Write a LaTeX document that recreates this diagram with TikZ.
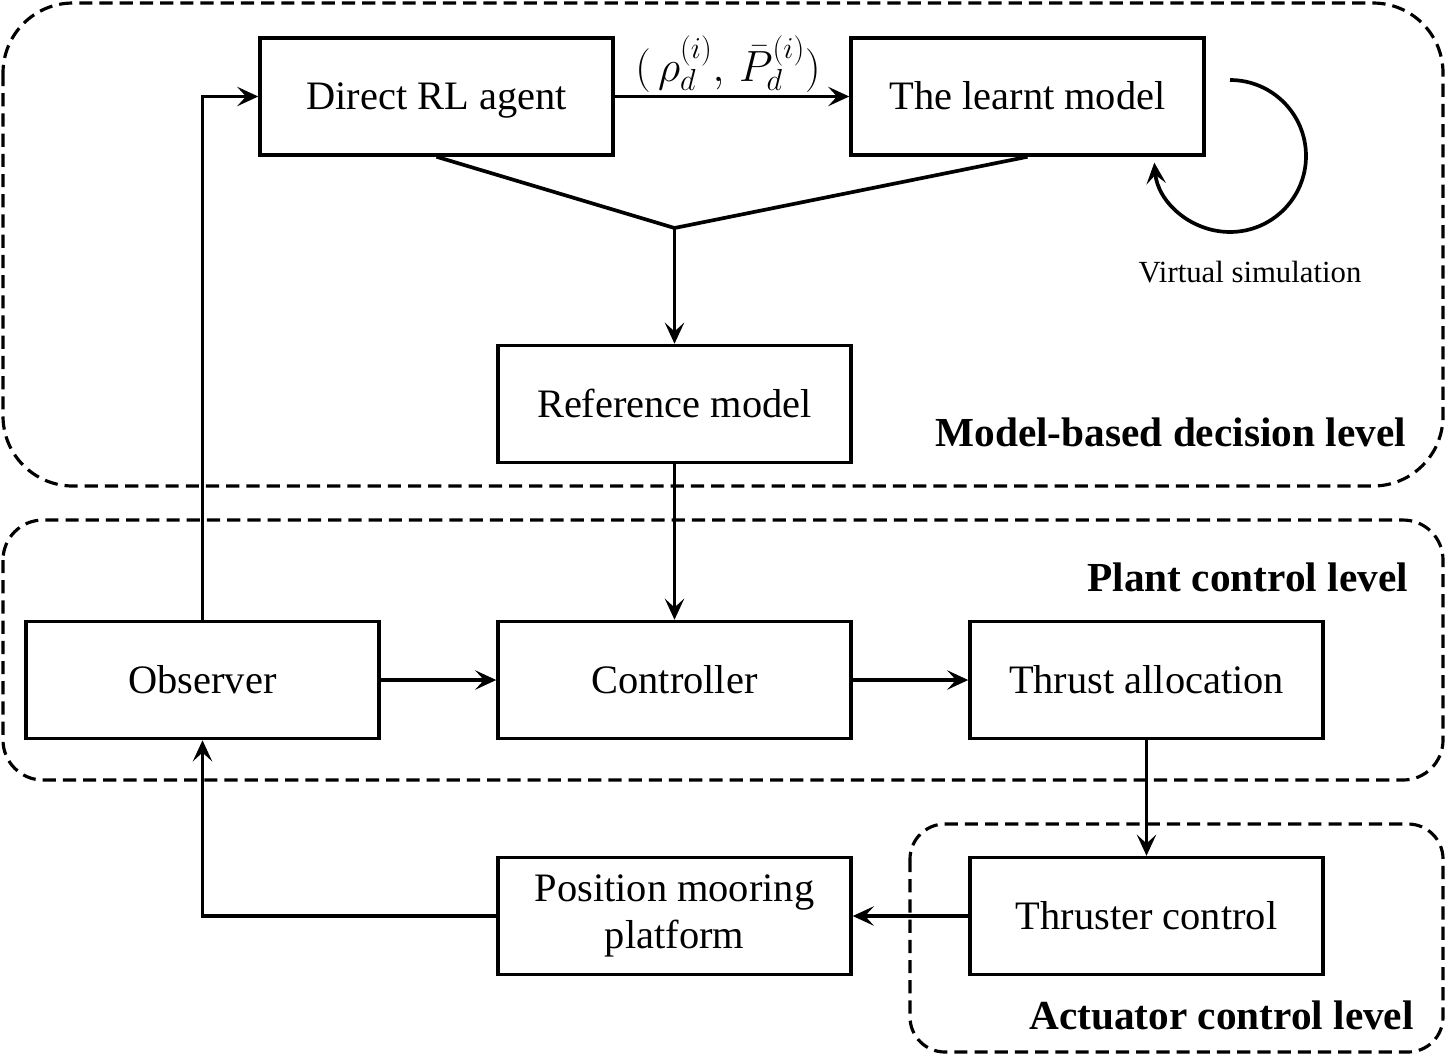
\documentclass[tikz,border=0pt]{standalone}
\usepackage{fontspec}
\setmainfont{Liberation Serif}
\usetikzlibrary{arrows.meta}
\begin{document}
\begin{tikzpicture}[x=0.02cm,y=-0.02cm,
  blk/.style={draw, line width=2pt, minimum width=7.06cm, minimum height=2.34cm,
    align=center, font=\fontsize{23}{27}\selectfont, inner sep=0pt,
    text height=15.2pt, text depth=0pt},
  arr/.style={line width=2.1pt, -{Stealth[length=12pt,width=11pt,inset=5pt]}},
  ln/.style={line width=2.1pt},
  zone/.style={draw, line width=1.8pt, dash pattern=on 7.5pt off 4pt},
  lvl/.style={font=\fontsize{23.5}{27}\selectfont\bfseries, anchor=east}]
\useasboundingbox (0,0) rectangle (1446,1063);

% zones
\draw[zone, rounded corners=1.4cm] (3,3) rectangle (1443,486);
\draw[zone, rounded corners=0.8cm] (3,520) rectangle (1443,780);
\draw[zone, rounded corners=0.7cm] (910,824) rectangle (1443,1052);

\node[lvl] (lmb) at (1412,432) {Model-based decision level};
\node[lvl] (lpc) at (1414,577) {Plant control level};
\node[lvl] (lac) at (1420,1015) {Actuator control level};

% blocks
\node[blk] (rl)   at (436.5,96.5) {Direct RL agent};
\node[blk] (lm)   at (1027.5,96.5) {The learnt model};
\node[blk] (ref)  at (674.5,404) {Reference model};
\node[blk] (obs)  at (202.5,680) {Observer};
\node[blk] (ctrl) at (674.5,680) {Controller};
\node[blk] (ta)   at (1146.5,680) {Thrust allocation};
\node[blk, text height=, text depth=] (pmp)  at (674.5,916) {Position mooring\\platform};
\node[blk] (tc)   at (1146.5,916) {Thruster control};

% connectors
\draw[arr] (obs.north) |- (rl.west);
\draw[arr] (rl.east) -- (lm.west);
\node[font=\fontsize{23}{27}\selectfont, inner sep=0pt] (lbl) at (728,64) {$(\,\rho_d^{(i)},\,\bar{P}_d^{(i)})$};
\coordinate (J) at (674.5,228);
\draw[ln, line join=miter] (rl.south) -- (J) -- (lm.south);
\draw[arr] (J) -- (ref.north);
\draw[arr] (ref.south) -- (ctrl.north);
\draw[arr] (obs.east) -- (ctrl.west);
\draw[arr] (ctrl.east) -- (ta.west);
\draw[arr] (ta.south) -- (tc.north);
\draw[arr] (tc.west) -- (pmp.east);
\draw[arr] (pmp.west) -| (obs.south);

% virtual simulation loop
\coordinate (vs0) at (1230,80);
\draw[arr] (vs0) arc[start angle=90, end angle=-175, radius=1.52cm];
\node[font=\fontsize{17.5}{20}\selectfont] (vs) at (1250,272) {Virtual simulation};
\end{tikzpicture}
\end{document}
